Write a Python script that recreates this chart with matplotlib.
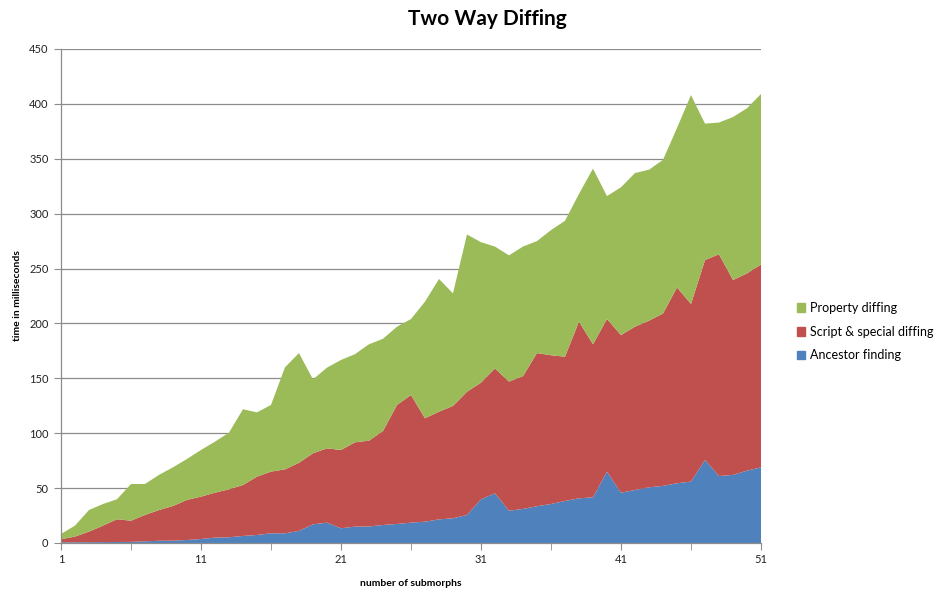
import matplotlib
matplotlib.use('Agg')
import matplotlib.pyplot as plt
from matplotlib.patches import Patch

# number of submorphs
submorphs = list(range(1, 52))

ancestor = [0.5, 0.6, 0.7, 0.8, 0.9, 1.0, 1.5, 2.0, 2.1, 2.7,
            3.6, 4.9, 5.2, 6.4, 7.3, 8.8, 8.8, 11.0, 17.0, 18.5,
            13.4, 14.9, 15.0, 16.4, 17.3, 18.5, 19.4, 21.5, 22.5, 25.5,
            39.8, 45.2, 29.4, 31.0, 33.5, 35.5, 38.3, 40.7, 41.6, 65.0,
            45.8, 48.3, 50.7, 52.0, 54.4, 55.9, 75.6, 61.0, 62.0, 65.9,
            68.9]
script_special = [2.9, 5.2, 9.6, 15.0, 20.7, 19.3, 24.0, 28.0, 31.6, 36.5,
                  38.6, 40.9, 43.7, 46.4, 53.1, 56.2, 58.3, 62.0, 64.7, 67.7,
                  71.3, 76.8, 78.2, 85.6, 108.4, 116.3, 94.2, 98.1, 102.3, 112.3,
                  106.2, 113.8, 117.6, 121.0, 139.5, 135.5, 131.4, 160.9, 139.4, 139.0,
                  143.6, 148.7, 151.8, 157.0, 178.4, 161.8, 182.1, 202.0, 177.5, 179.7,
                  184.8]
property_diff = [4.8, 10.0, 19.7, 19.7, 18.2, 33.4, 28.2, 32.0, 35.2, 37.3,
                 42.5, 46.5, 51.6, 69.0, 58.6, 60.7, 92.9, 100.0, 67.3, 73.5,
                 82.0, 80.3, 87.8, 84.0, 71.3, 69.2, 106.2, 120.9, 102.6, 143.2,
                 128.0, 111.0, 115.0, 118.0, 102.0, 114.0, 123.8, 116.4, 160.0, 112.0,
                 134.6, 140.0, 137.5, 140.0, 145.2, 190.3, 124.3, 120.0, 148.5, 150.4,
                 155.3]

series_names = ['Ancestor finding', 'Script & special diffing', 'Property diffing']
colors = ['#4F81BD', '#C0504D', '#9BBB59']
y_ticks = [0, 50, 100, 150, 200, 250, 300, 350, 400, 450]
x_labels = [1, 11, 21, 31, 41, 51]

plt.rcParams['font.family'] = ['Lato', 'DejaVu Sans']

fig = plt.figure(figsize=(9.35, 5.9), dpi=100)
ax = fig.add_axes([0.0652, 0.0797, 0.7487, 0.8373])

ax.stackplot(submorphs, ancestor, script_special, property_diff,
             colors=colors, linewidth=0, zorder=2)

ax.set_xlim(1, 51)
ax.set_ylim(0, 450)
ax.set_yticks(y_ticks)
ax.set_xticks(x_labels)
ax.set_xticks(list(range(1, 52, 5)), minor=True)
ax.yaxis.grid(True, color='#8c8c8c', linewidth=0.9, zorder=0)
ax.set_axisbelow(True)

for side in ['top', 'right']:
    ax.spines[side].set_visible(False)
for side in ['left', 'bottom']:
    ax.spines[side].set_color('#8c8c8c')
    ax.spines[side].set_linewidth(0.9)
    ax.spines[side].set_zorder(3)

ax.tick_params(axis='both', which='both', direction='out', color='#8c8c8c',
               labelsize=8, labelcolor='#222222')
ax.tick_params(axis='x', which='major', length=5, pad=3)
ax.tick_params(axis='x', which='minor', length=5)
ax.tick_params(axis='y', length=5, pad=4)

ax.set_xlabel('number of submorphs', fontsize=7.5, fontweight='bold', labelpad=10)
ax.set_ylabel('time in milliseconds', fontsize=7.5, fontweight='bold', labelpad=5)

fig.text(0.521, 0.967, 'Two Way Diffing', ha='center', va='center',
         fontsize=15, fontweight='bold')

handles = [Patch(color=colors[2]), Patch(color=colors[1]), Patch(color=colors[0])]
fig.legend(handles, [series_names[2], series_names[1], series_names[0]],
           loc='center left', bbox_to_anchor=(0.84, 0.438), frameon=False,
           fontsize=9, handlelength=0.7, handleheight=0.7, handletextpad=0.4,
           labelspacing=0.95)

fig.savefig('out.png', dpi=100)
